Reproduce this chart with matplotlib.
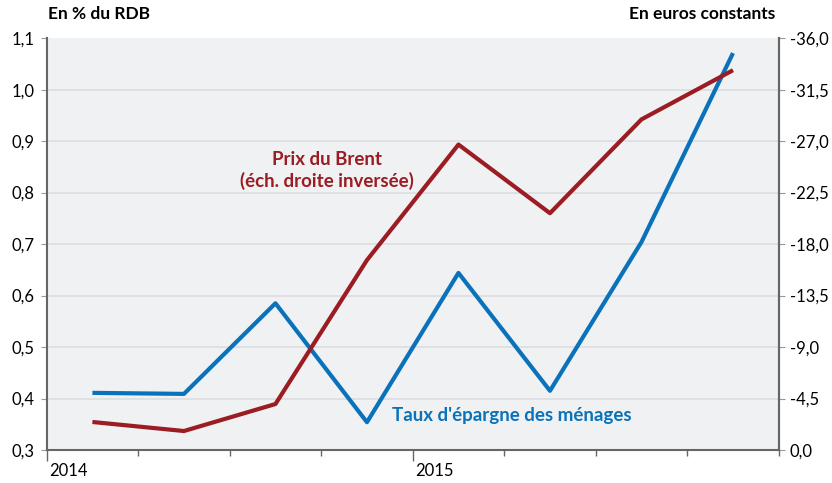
import matplotlib
matplotlib.use("Agg")
import matplotlib.pyplot as plt
from matplotlib.ticker import FixedLocator, FuncFormatter

plt.rcParams['font.family'] = ['Lato', 'DejaVu Sans']

quarters = [0.5, 1.5, 2.5, 3.5, 4.5, 5.5, 6.5, 7.5]
epargne = [0.411, 0.409, 0.585, 0.354, 0.644, 0.415, 0.704, 1.071]
brent = [-2.45, -1.66, -4.02, -16.6, -26.7, -20.7, -28.9, -33.2]
year_labels = ['2014', '2015']
left_ticks = [0.3, 0.4, 0.5, 0.6, 0.7, 0.8, 0.9, 1.0, 1.1]
right_ticks = [0.0, -4.5, -9.0, -13.5, -18.0, -22.5, -27.0, -31.5, -36.0]

blue = '#0A72BA'
red = '#9B1C22'
axis_col = '#666666'

fig = plt.figure(figsize=(8.32, 4.83), dpi=100)
ax = fig.add_axes([0.0561, 0.0683, 0.936 - 0.0561, 0.921 - 0.0683])
ax.set_facecolor('#F0F1F3')
ax.set_xlim(0, 8)
ax.set_ylim(0.3, 1.1)
ax.yaxis.set_major_locator(FixedLocator(left_ticks))
ax.yaxis.set_major_formatter(FuncFormatter(lambda v, p: f"{v:.1f}".replace('.', ',')))
for y in left_ticks[1:-1]:
    ax.axhline(y, color='#DCDDE0', lw=1.2, zorder=0)

ax.set_xticks([0, 4])
ax.set_xticklabels([])
ax.set_xticks([1, 2, 3, 5, 6, 7, 8], minor=True)
ax.tick_params(axis='x', which='major', length=8, color=axis_col, width=1)
ax.tick_params(axis='x', which='minor', length=4, color=axis_col, width=1)
for xi, lab in zip([0, 4], year_labels):
    ax.text(xi + 0.03, -0.05, lab, transform=ax.get_xaxis_transform(), ha='left', va='center', fontsize=12)

ax.tick_params(axis='y', length=4, color='#999999', labelsize=12, pad=5)
for s in ['top']:
    ax.spines[s].set_visible(False)
for s in ['left', 'right', 'bottom']:
    ax.spines[s].set_color(axis_col)
    ax.spines[s].set_linewidth(1.5)

ax.plot(quarters, epargne, color=blue, lw=3, zorder=3, solid_capstyle='butt')

ax2 = ax.twinx()
ax2.set_ylim(0, -36)
ax2.yaxis.set_major_locator(FixedLocator(right_ticks))
ax2.yaxis.set_major_formatter(FuncFormatter(lambda v, p: f"{v:.1f}".replace('.', ',') if v != 0 else '0,0'))
ax2.tick_params(axis='y', length=4, color='#999999', labelsize=12, pad=4)
for s in ['top', 'left', 'bottom']:
    ax2.spines[s].set_visible(False)
ax2.spines['right'].set_color(axis_col)
ax2.spines['right'].set_linewidth(1.5)
ax2.plot(quarters, brent, color=red, lw=3, zorder=3, solid_capstyle='butt')

ax.text(3.06, 0.843, "Prix du Brent\n(éch. droite inversée)", color=red, fontsize=13.5,
        fontweight='bold', ha='center', va='center', linespacing=1.2)
ax.text(5.08, 0.367, "Taux d'épargne des ménages", color=blue, fontsize=13.5,
        fontweight='bold', ha='center', va='center')

fig.text(0.058, 0.97, "En % du RDB", fontsize=12.5, fontweight='bold', ha='left', va='center')
fig.text(0.932, 0.97, "En euros constants", fontsize=12.5, fontweight='bold', ha='right', va='center')

fig.savefig('out.png', dpi=100)
